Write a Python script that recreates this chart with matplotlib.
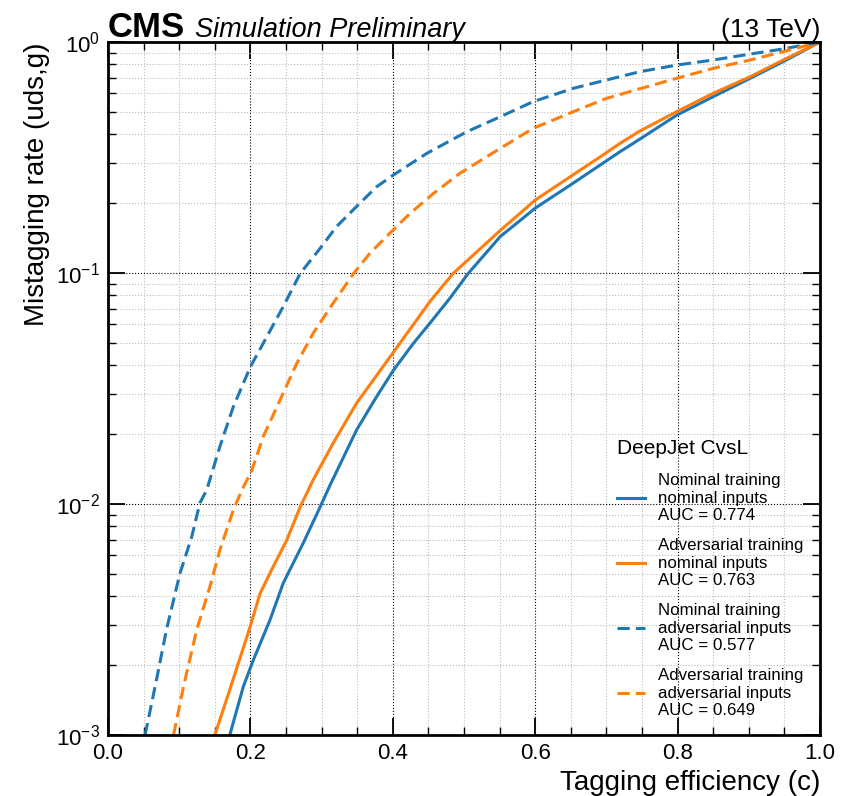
import matplotlib
matplotlib.use("Agg")
import matplotlib.pyplot as plt
from matplotlib.ticker import MultipleLocator, LogLocator, NullFormatter

plt.rcParams['font.family'] = ['Liberation Sans', 'DejaVu Sans']
plt.rcParams['mathtext.fontset'] = 'custom'
plt.rcParams['mathtext.rm'] = 'Liberation Sans'
plt.rcParams['mathtext.it'] = 'Liberation Sans:italic'

# Nominal training, nominal inputs
eff_nom_nom = [0.171, 0.190, 0.204, 0.2275, 0.246, 0.274, 0.298, 0.312, 0.349, 0.377, 0.401, 0.429,
               0.452, 0.480, 0.506, 0.551, 0.579, 0.600, 0.649, 0.719, 0.747, 0.799, 0.850, 0.902, 0.948, 1.0]
mis_nom_nom = [1.0e-3, 1.62e-3, 2.11e-3, 3.15e-3, 4.54e-3, 6.76e-3, 9.73e-3, 0.0121, 0.0209, 0.0291, 0.038, 0.0497,
               0.0606, 0.0777, 0.0997, 0.144, 0.169, 0.191, 0.240, 0.335, 0.380, 0.483, 0.580, 0.697, 0.822, 1.0]

# Adversarial training, nominal inputs
eff_adv_nom = [0.150, 0.171, 0.1995, 0.2135, 0.232, 0.251, 0.270, 0.288, 0.316, 0.349, 0.401, 0.452,
               0.485, 0.551, 0.600, 0.649, 0.691, 0.719, 0.747, 0.799, 0.850, 0.902, 0.948, 1.0]
mis_adv_nom = [1.0e-3, 1.57e-3, 2.94e-3, 4.1e-3, 5.36e-3, 6.98e-3, 9.73e-3, 0.0127, 0.0183, 0.0273, 0.0455, 0.0752,
               0.0998, 0.153, 0.207, 0.261, 0.318, 0.364, 0.412, 0.500, 0.600, 0.708, 0.835, 1.0]

# Nominal training, adversarial inputs
eff_nom_adv = [0.052, 0.068, 0.082, 0.101, 0.1175, 0.129, 0.1386, 0.157, 0.176, 0.200, 0.223, 0.246, 0.270,
               0.298, 0.321, 0.349, 0.377, 0.401, 0.448, 0.504, 0.551, 0.597, 0.654, 0.700, 0.747, 0.799,
               0.850, 0.902, 0.948, 1.0]
mis_nom_adv = [1.0e-3, 1.73e-3, 2.85e-3, 5.01e-3, 7.2e-3, 0.0101, 0.0115, 0.0177, 0.0264, 0.0393, 0.053, 0.0715, 0.0997,
               0.128, 0.159, 0.194, 0.236, 0.266, 0.330, 0.409, 0.475, 0.552, 0.631, 0.685, 0.744, 0.795,
               0.836, 0.887, 0.933, 1.0]

# Adversarial training, adversarial inputs
eff_adv_adv = [0.092, 0.106, 0.1245, 0.143, 0.157, 0.176, 0.188, 0.202, 0.218, 0.2416, 0.265, 0.288, 0.316,
               0.345, 0.368, 0.398, 0.424, 0.457, 0.494, 0.532, 0.574, 0.597, 0.654, 0.700, 0.747, 0.799,
               0.850, 0.902, 0.948, 1.0]
mis_adv_adv = [1.0e-3, 1.62e-3, 2.85e-3, 4.38e-3, 6.32e-3, 9.42e-3, 0.0115, 0.014, 0.0196, 0.0282, 0.0406, 0.0548, 0.0739,
               0.0997, 0.122, 0.151, 0.181, 0.221, 0.270, 0.319, 0.383, 0.423, 0.500, 0.570, 0.628, 0.697,
               0.769, 0.836, 0.908, 1.0]

labels = ["Nominal training\nnominal inputs\nAUC = 0.774",
          "Adversarial training\nnominal inputs\nAUC = 0.763",
          "Nominal training\nadversarial inputs\nAUC = 0.577",
          "Adversarial training\nadversarial inputs\nAUC = 0.649"]

blue = "#1f77b4"
orange = "#ff7f0e"

fig = plt.figure(figsize=(8.46, 7.96), dpi=100)
ax = fig.add_axes([0.1277, 0.0766, 0.8416, 0.8706])

lw = 2.2
ax.plot(eff_nom_nom, mis_nom_nom, color=blue, lw=lw, label=labels[0])
ax.plot(eff_adv_nom, mis_adv_nom, color=orange, lw=lw, label=labels[1])
ax.plot(eff_nom_adv, mis_nom_adv, color=blue, lw=lw, ls=(0, (4, 2)), label=labels[2])
ax.plot(eff_adv_adv, mis_adv_adv, color=orange, lw=lw, ls=(0, (4, 2)), label=labels[3])

ax.set_yscale('log')
ax.set_xlim(0, 1)
ax.set_ylim(1e-3, 1)

ax.xaxis.set_major_locator(MultipleLocator(0.2))
ax.xaxis.set_minor_locator(MultipleLocator(0.05))
ax.yaxis.set_major_locator(LogLocator(base=10, numticks=10))
ax.yaxis.set_minor_locator(LogLocator(base=10, subs=range(2, 10), numticks=20))
ax.yaxis.set_minor_formatter(NullFormatter())

ax.tick_params(which='both', direction='in', top=True, right=True, labelsize=16)
ax.tick_params(which='major', length=12, width=1.3, pad=6)
ax.tick_params(which='minor', length=6, width=1.0)
for s in ax.spines.values():
    s.set_linewidth(2)

ax.grid(which='major', color='black', ls=':', lw=0.8)
ax.grid(which='minor', color='#bbbbbb', ls=':', lw=0.8)
ax.set_axisbelow(True)

ax.set_xlabel("Tagging efficiency (c)", fontsize=20, loc='right')
ax.set_ylabel("Mistagging rate (uds,g)", fontsize=20, loc='top')

ax.text(0.0, 1.007, "CMS", transform=ax.transAxes, fontsize=25, fontweight='bold',
        ha='left', va='baseline')
ax.text(0.122, 1.007, "Simulation Preliminary", transform=ax.transAxes, fontsize=19.5,
        style='italic', ha='left', va='baseline')
ax.text(1.0, 1.007, "(13 TeV)", transform=ax.transAxes, fontsize=19, ha='right', va='baseline')

leg = ax.legend(loc='lower right', frameon=False, fontsize=12.2, title="DeepJet CvsL",
                title_fontsize=15, handlelength=1.65, handletextpad=0.77, labelspacing=0.9,
                borderaxespad=0.6)
leg._legend_box.align = "left"
for t in leg.get_texts():
    t.set_linespacing(1.2)

fig.savefig("out.png", dpi=100)
